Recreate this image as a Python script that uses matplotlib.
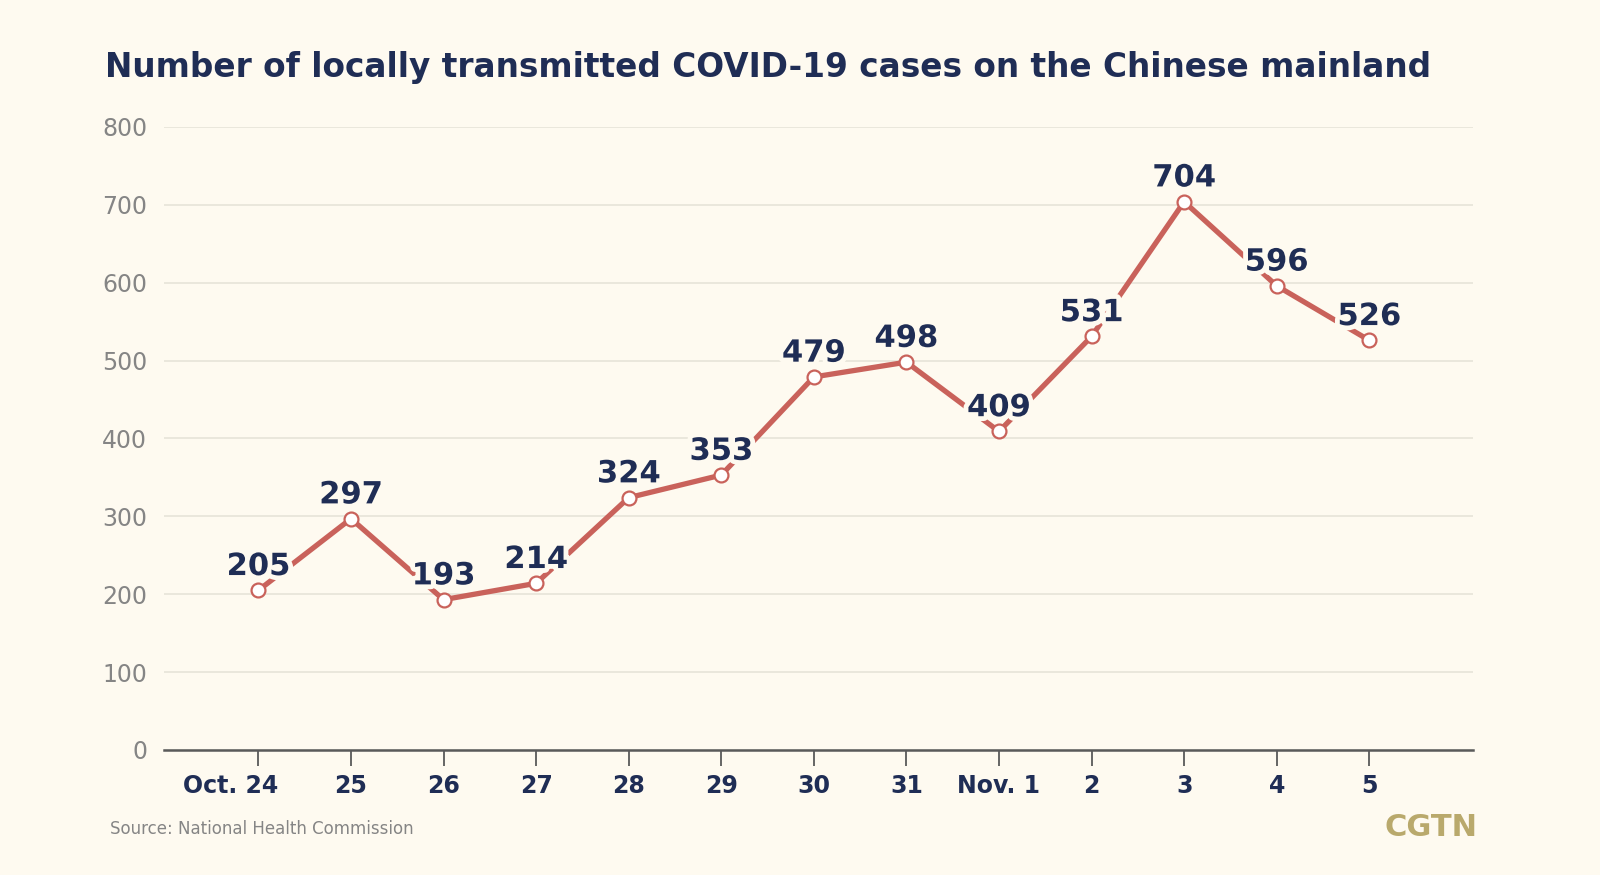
import matplotlib
matplotlib.use("Agg")
import matplotlib.pyplot as plt
import matplotlib.patheffects as pe
import matplotlib.transforms as mtransforms
from matplotlib import font_manager

dates = ["Oct. 24", "25", "26", "27", "28", "29", "30", "31", "Nov. 1", "2", "3", "4", "5"]
cases = [205, 297, 193, 214, 324, 353, 479, 498, 409, 531, 704, 596, 526]
yticks = [0, 100, 200, 300, 400, 500, 600, 700, 800]

BG = "#FEFAF0"
NAVY = "#1F2D55"
RED = "#C9625B"
GREY = "#858585"
GRID = "#E8E5DA"
GOLD = "#B9A96C"

names = {f.name for f in font_manager.fontManager.ttflist}
narrow = "Liberation Sans Narrow" if "Liberation Sans Narrow" in names else "DejaVu Sans"
FAM = [narrow, "DejaVu Sans"]
plt.rcParams['font.family'] = FAM

fig = plt.figure(figsize=(16, 8.75), dpi=100, facecolor=BG)
ax = fig.add_axes([0.1025, 0.1429, 0.9206 - 0.1025, 0.8549 - 0.1429])
ax.set_facecolor(BG)

x = list(range(len(dates)))
ax.plot(x, cases, color=RED, lw=3.8, zorder=3, clip_on=False,
        marker="o", ms=10, mfc="white", mec=RED, mew=1.6)

for xi, v in zip(x, cases):
    ax.annotate(str(v), (xi, v), xytext=(0, 11), textcoords="offset points",
                ha="center", va="baseline", fontsize=22, fontweight="bold",
                color=NAVY, zorder=5,
                path_effects=[pe.withStroke(linewidth=7, foreground=BG)])

ax.set_xlim(-1.02, 13.12)
ax.set_ylim(0, 800)
ax.set_yticks(yticks)
ax.set_yticklabels([str(t) for t in yticks])
ax.set_xticks(x)
ax.set_xticklabels(dates)

for s in ["top", "right", "left"]:
    ax.spines[s].set_visible(False)
ax.spines["bottom"].set_color("#5a5a5a")
ax.spines["bottom"].set_linewidth(1.8)

ax.tick_params(axis="y", length=0, pad=12, labelsize=17, labelcolor=GREY)
ax.tick_params(axis="x", length=11.5, width=1.3, color="#5a5a5a", pad=6,
               labelsize=17, labelcolor=NAVY)
for lab in ax.get_xticklabels():
    lab.set_fontweight("bold")
first = ax.get_xticklabels()[0]
first.set_transform(first.get_transform() +
                    mtransforms.ScaledTranslation(-0.28, 0, fig.dpi_scale_trans))

ax.yaxis.grid(True, color=GRID, lw=1.3)
ax.set_axisbelow(True)

title = fig.text(105 / 1600, 1 - 77 / 875,
                 "Number of locally transmitted COVID-19 cases on the Chinese mainland",
                 ha="left", va="baseline", fontsize=30, fontweight="bold", color=NAVY)
fig.canvas.draw()
r = fig.canvas.get_renderer()
w = title.get_window_extent(r).width
title.set_fontsize(30 * 1324 / w)

fig.text(110 / 1600, 1 - 834 / 875, "Source: National Health Commission",
         ha="left", va="baseline", fontsize=12, color=GREY)
fig.text(1477 / 1600, 1 - 836 / 875, "CGTN", ha="right", va="baseline",
         fontsize=22, fontweight="bold", color=GOLD, family=["DejaVu Sans"])

fig.savefig("out.png", dpi=100, facecolor=BG)
